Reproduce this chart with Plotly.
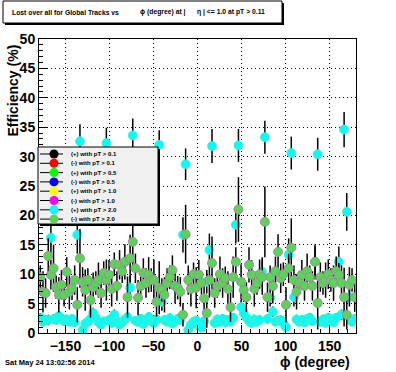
import numpy as np
import plotly.graph_objects as go

# ---------------- data ----------------
phi_centers = np.arange(-178.5, 180, 3.0)  # 120 bins of 3 degrees

eff_pos_pt20 = [2.6, 1.9, 2.2, 2.2, 16.2, 2.4, 2.2, 2.9, 2.5, 2.0,
                2.3, 1.9, 2.4, 1.8, 16.7, 32.6, 0.5, 1.6, 1.9, 2.4,
                3.4, 2.6, 1.8, 1.4, 2.0, 32.3, 2.2, 1.7, 3.1, 2.0,
                1.4, 1.8, 2.3, 2.7, 7.7, 33.6, 2.1, 1.9, 2.4, 1.5,
                2.1, 2.7, 2.0, 1.7, 2.3, 32.0, 5.3, 2.2, 1.9, 2.5,
                1.6, 2.0, 2.4, 2.2, 16.7, 28.7, 0.5, 1.4, 1.9, 2.1,
                1.2, 0.9, 2.0, 8.7, 14.1, 31.8, 1.7, 2.3, 1.9, 2.4,
                1.8, 2.2, 1.9, 2.6, 18.4, 31.9, 4.4, 3.4, 2.6, 2.0,
                1.7, 2.3, 1.9, 2.2, 10.4, 33.3, 2.4, 6.0, 3.6, 1.9,
                2.1, 2.2, 1.6, 1.0, 13.3, 30.6, 6.1, 2.3, 1.9, 2.2,
                1.8, 2.4, 2.6, 2.0, 12.1, 30.4, 1.9, 2.3, 1.7, 2.6,
                2.1, 1.8, 2.6, 12.1, 3.1, 34.6, 20.6, 6.1, 1.9, 2.4]

err_pos_pt20 = [0.8, 0.7, 0.8, 0.9, 3.0, 0.8, 0.7, 0.9, 0.8, 0.7,
                0.8, 0.7, 0.8, 0.6, 3.2, 2.9, 0.4, 0.7, 0.7, 0.8,
                0.9, 0.8, 0.7, 0.6, 0.7, 2.6, 0.8, 0.7, 0.9, 0.7,
                0.6, 0.7, 0.8, 0.8, 2.0, 2.9, 0.7, 0.7, 0.8, 0.6,
                0.7, 0.8, 0.7, 0.6, 0.8, 2.5, 1.5, 0.8, 0.7, 0.8,
                0.6, 0.7, 0.8, 0.7, 3.0, 2.7, 0.4, 0.6, 0.7, 0.7,
                0.5, 0.4, 0.7, 2.0, 2.8, 2.9, 0.7, 0.8, 0.7, 0.8,
                0.7, 0.8, 0.7, 0.8, 3.2, 2.8, 1.2, 0.9, 0.8, 0.7,
                0.7, 0.8, 0.7, 0.8, 2.5, 2.8, 0.8, 1.5, 0.9, 0.7,
                0.7, 0.8, 0.6, 0.5, 2.8, 2.8, 1.6, 0.8, 0.7, 0.8,
                0.7, 0.8, 0.8, 0.7, 2.6, 2.8, 0.7, 0.8, 0.6, 0.8,
                0.7, 0.7, 0.8, 2.6, 0.9, 3.0, 3.2, 1.6, 0.7, 0.8]

eff_neg_pt20 = [9.5, 7.0, 6.8, 13.1, 9.9, 11.0, 7.8, 6.5, 8.2, 6.5,
                10.4, 7.0, 7.6, 9.0, 4.8, 12.7, 8.7, 7.3, 9.0, 5.6,
                7.8, 8.5, 9.0, 6.8, 10.2, 9.0, 9.9, 7.5, 11.7, 8.0,
                11.6, 10.5, 12.1, 6.1, 12.7, 15.5, 11.0, 6.0, 8.0, 10.2,
                8.5, 9.9, 9.0, 9.0, 5.3, 7.7, 7.3, 6.5, 8.5, 9.5,
                10.7, 8.0, 7.7, 7.0, 3.1, 16.8, 9.0, 7.5, 10.0, 7.7,
                9.9, 8.5, 5.9, 3.4, 9.0, 11.9, 6.8, 8.0, 10.0, 8.5,
                9.3, 7.5, 4.4, 9.5, 12.1, 21.0, 8.7, 7.3, 6.1, 11.6,
                9.9, 7.5, 8.5, 10.0, 9.5, 18.9, 6.1, 9.5, 8.0, 10.5,
                13.8, 9.3, 10.0, 4.8, 11.0, 14.5, 9.0, 7.0, 8.5, 9.9,
                8.0, 10.5, 9.5, 8.0, 12.1, 5.1, 9.5, 8.5, 9.0, 10.0,
                9.0, 8.5, 10.5, 9.9, 8.5, 6.1, 3.1, 8.2, 9.0, 6.1]

err_neg_pt20 = [2.0, 3.5, 2.5, 3.0, 2.5, 4.0, 2.0, 3.0, 2.5, 2.0,
                2.5, 3.0, 2.0, 2.5, 3.0, 5.0, 2.5, 3.5, 2.0, 3.0,
                2.5, 2.0, 3.0, 2.5, 2.0, 3.5, 2.5, 3.0, 2.0, 2.5,
                2.5, 2.0, 3.0, 3.5, 4.0, 5.0, 2.5, 3.0, 2.0, 2.5,
                2.5, 3.0, 2.0, 3.5, 2.5, 4.5, 2.0, 3.0, 2.5, 2.0,
                2.5, 3.0, 2.0, 2.5, 2.0, 5.0, 2.5, 3.0, 2.0, 3.5,
                2.5, 2.0, 3.0, 2.5, 3.0, 4.5, 2.5, 2.0, 3.0, 2.5,
                2.0, 3.0, 2.5, 3.5, 2.5, 5.5, 3.0, 2.0, 2.5, 3.0,
                2.5, 3.0, 2.0, 2.5, 3.0, 6.0, 2.5, 2.0, 3.0, 2.5,
                3.0, 2.5, 2.0, 3.0, 2.5, 5.0, 2.5, 3.0, 2.0, 2.5,
                2.5, 3.0, 2.0, 2.5, 3.0, 4.5, 2.5, 2.0, 3.0, 2.5,
                2.0, 3.0, 2.5, 2.0, 3.0, 5.0, 2.5, 3.0, 2.0, 2.5]

legend_labels = ["(+) with pT > 0.1", "(-) with pT > 0.1",
                 "(+) with pT > 0.5", "(-) with pT > 0.5",
                 "(+) with pT > 1.0", "(-) with pT > 1.0",
                 "(+) with pT > 2.0", "(-) with pT > 2.0"]
legend_colors = ["#000000", "#ff0000", "#00ff00", "#0000ff",
                 "#ffff00", "#ff00ff", "#00ffff", "#59d454"]

x_tickvals = [-150, -100, -50, 0, 50, 100, 150]
y_tickvals = [0, 5, 10, 15, 20, 25, 30, 35, 40, 45, 50]

# ---------------- layout geometry ----------------
W, H = 396, 372
PL, PR, PT, PB = 39, 356, 39, 333


def px(x):
    return (x - PL) / (PR - PL)


def py(y):
    return (PB - y) / (PB - PT)


FONT = "Liberation Sans"

fig = go.Figure()

fig.add_trace(go.Scatter(
    x=phi_centers, y=eff_pos_pt20, mode="markers", showlegend=False,
    marker=dict(symbol="circle", size=9, color=legend_colors[6],
                line=dict(color="#5fe6a8", width=0.8)),
    error_y=dict(type="data", array=err_pos_pt20, color="black",
                 thickness=1.5, width=0),
))
fig.add_trace(go.Scatter(
    x=phi_centers, y=eff_neg_pt20, mode="markers", showlegend=False,
    marker=dict(symbol="circle", size=9, color=legend_colors[7],
                line=dict(color="#a08aa8", width=1)),
    error_y=dict(type="data", array=err_neg_pt20, color="black",
                 thickness=1.5, width=0),
))

shapes = []
annotations = []

# title box with shadow
shapes.append(dict(type="rect", xref="paper", yref="paper",
                   x0=px(5), x1=px(284), y0=py(3), y1=py(25),
                   fillcolor="black", line=dict(width=0), layer="above"))
shapes.append(dict(type="rect", xref="paper", yref="paper",
                   x0=px(3), x1=px(282), y0=py(1), y1=py(23),
                   fillcolor="white", line=dict(color="black", width=1),
                   layer="above"))
for txt, xx in [("Lost over all for Global Tracks vs", 10),
                ("\u03d5 (degree) at |", 138),
                ("\u03b7 | <= 1.0 at pT > 0.11", 195)]:
    annotations.append(dict(text=txt, xref="paper", yref="paper",
                            x=px(xx), y=py(12), xanchor="left",
                            yanchor="middle", showarrow=False,
                            font=dict(family=FONT, size=6.8, color="black",
                                      weight="bold")))

# legend box with shadow
LX0, LX1, LY0, LY1 = 38, 158, 147, 224
shapes.append(dict(type="rect", xref="paper", yref="paper",
                   x0=px(LX0 + 2), x1=px(LX1 + 2), y0=py(LY0 + 2),
                   y1=py(LY1 + 2), fillcolor="black", line=dict(width=0),
                   layer="above"))
shapes.append(dict(type="rect", xref="paper", yref="paper",
                   x0=px(LX0), x1=px(LX1), y0=py(LY0), y1=py(LY1),
                   fillcolor="#f0f0f0", line=dict(color="black", width=1),
                   layer="above"))
for i, (lab, col) in enumerate(zip(legend_labels, legend_colors)):
    yc = 154 + 9.3 * i
    shapes.append(dict(type="line", xref="paper", yref="paper",
                       x0=px(40), x1=px(63), y0=py(yc), y1=py(yc),
                       line=dict(color="black", width=1), layer="above"))
    shapes.append(dict(type="circle", xref="paper", yref="paper",
                       xsizemode="pixel", ysizemode="pixel",
                       xanchor=px(54), yanchor=py(yc),
                       x0=-4.5, x1=4.5, y0=-4.5, y1=4.5,
                       fillcolor=col, line=dict(width=0), layer="above"))
    annotations.append(dict(text=lab, xref="paper", yref="paper",
                            x=px(69), y=py(yc), xanchor="left",
                            yanchor="middle", showarrow=False,
                            font=dict(family=FONT, size=6, color="black",
                                      weight="bold")))

# axis titles
annotations.append(dict(text="Efficiency (%)", xref="paper", yref="paper",
                        x=px(12.5), y=py(43), xanchor="center",
                        yanchor="top", textangle=-90, showarrow=False,
                        font=dict(family=FONT, size=14, color="black",
                                  weight="bold")))
annotations.append(dict(text="\u03d5 (degree)", xref="paper", yref="paper",
                        x=px(352), y=py(362), xanchor="right",
                        yanchor="middle", showarrow=False,
                        font=dict(family=FONT, size=14, color="black",
                                  weight="bold")))
# date stamp
annotations.append(dict(text="Sat May 24 13:02:56 2014", xref="paper",
                        yref="paper", x=px(3), y=py(363), xanchor="left",
                        yanchor="middle", showarrow=False,
                        font=dict(family=FONT, size=7.5, color="black",
                                  weight="bold")))

axis_common = dict(
    showline=True, linecolor="black", linewidth=1, mirror=True,
    ticks="inside", ticklen=8, tickcolor="black", tickwidth=1,
    showgrid=True, gridcolor="black", griddash="1px,3px", gridwidth=1,
    zeroline=False,
    tickfont=dict(family=FONT, size=14, color="black", weight="bold"),
)

fig.update_layout(
    width=W, height=H,
    margin=dict(l=PL, r=W - PR, t=PT, b=H - PB, pad=0),
    paper_bgcolor="white", plot_bgcolor="white",
    showlegend=False, hovermode=False,
    shapes=shapes, annotations=annotations,
    xaxis=dict(range=[-180, 180], tickmode="array", tickvals=x_tickvals,
               minor=dict(dtick=10, tick0=0, ticks="inside", ticklen=4,
                          tickcolor="black", showgrid=False),
               **axis_common),
    yaxis=dict(range=[0, 50], tickmode="array", tickvals=y_tickvals,
               minor=dict(dtick=1, tick0=0, ticks="inside", ticklen=4,
                          tickcolor="black", showgrid=False),
               **axis_common),
)

fig.write_html("out.html",
               config={"displayModeBar": False},
               post_script="document.body.style.margin='0px';"
                           "document.body.style.padding='0px';")
